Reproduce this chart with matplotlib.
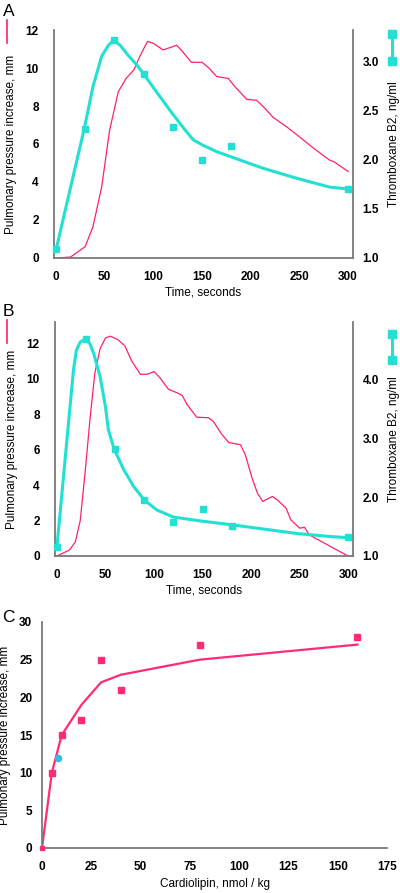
import numpy as np
import matplotlib
matplotlib.use("Agg")
import matplotlib.pyplot as plt
from matplotlib.lines import Line2D

plt.rcParams['font.family'] = ['Liberation Sans', 'DejaVu Sans']

RED = '#ff2266'
CYAN = '#22e0d2'
PINK = '#ff2a78'
BLUE = '#33bbee'
SPINE = '#7a7a7a'

# ---- panel A ----
a_press_t = [0, 15, 30, 38, 47, 55, 64, 72, 80, 86, 94, 100, 110, 124, 131, 139, 150, 157,
             165, 177, 184, 196, 206, 213, 223, 237, 247, 264, 281, 286, 300]
a_press_v = [0, 0.05, 0.6, 1.65, 3.75, 6.7, 8.75, 9.45, 9.9, 10.6, 11.4, 11.3, 10.95, 11.2,
             10.8, 10.3, 10.3, 10.0, 9.55, 9.45, 9.0, 8.35, 8.3, 7.96, 7.4, 6.9, 6.5, 5.8,
             5.15, 5.05, 4.55]
a_txb_t = [0, 30, 60, 90, 120, 150, 180, 300]
a_txb_v = [1.09, 2.31, 3.21, 2.87, 2.33, 2.0, 2.14, 1.70]
a_fit_t = [0, 29, 38, 47, 54, 59, 66, 74, 83, 90, 103, 117, 131, 141, 150, 165, 179, 213, 247, 281, 300]
a_fit_v = [1.08, 2.31, 2.74, 3.05, 3.16, 3.21, 3.16, 3.06, 2.96, 2.87, 2.69, 2.50, 2.32, 2.20,
           2.15, 2.08, 2.03, 1.91, 1.81, 1.72, 1.70]

# ---- panel B ----
b_press_t = [0, 13, 19, 24, 29, 34, 39, 44.5, 50, 55, 63, 70, 77, 86, 93, 100, 106, 115, 124,
             129, 134, 144, 156, 161, 170, 177, 189, 194, 201, 206.5, 212, 222, 227, 236, 241,
             250, 255, 260, 282, 300]
b_press_v = [0, 0.34, 0.8, 2.0, 4.7, 7.7, 10.3, 11.7, 12.3, 12.4, 12.2, 11.85, 11.0, 10.25,
             10.25, 10.4, 10.06, 9.4, 9.2, 9.06, 8.55, 7.83, 7.8, 7.6, 6.85, 6.4, 6.28, 5.72,
             4.4, 3.55, 3.08, 3.36, 3.17, 2.7, 2.04, 1.57, 1.62, 1.19, 0.53, 0]
b_txb_t = [0, 30, 60, 90, 120, 150, 180, 300]
b_txb_v = [1.16, 4.68, 2.81, 1.95, 1.58, 1.80, 1.51, 1.32]
b_fit_t = [0, 17, 20, 24, 29, 34, 38, 44.5, 50, 53, 59, 69, 79, 90, 103, 120, 150, 180, 248, 282, 300]
b_fit_v = [1.16, 4.15, 4.49, 4.63, 4.68, 4.6, 4.43, 4.04, 3.53, 3.14, 2.81, 2.46, 2.18, 1.95,
           1.78, 1.66, 1.59, 1.53, 1.38, 1.33, 1.31]

# ---- panel C ----
c_dose = [5, 10, 20, 30, 40, 80, 160]
c_resp = [10, 15, 17, 25, 21, 27, 28]
c_fit_dose = [0, 5, 10, 20, 30, 40, 80, 160]
c_fit_resp = [0, 10, 15, 19, 22, 23, 25, 27]
c_blue_dose = [8]
c_blue_resp = [12]

W, H = 400, 893
fig = plt.figure(figsize=(W / 100, H / 100), dpi=100)


def rect(l, r, top, bot):
    return [l / W, 1 - bot / H, (r - l) / W, (bot - top) / H]


def style(ax, right=None):
    for s in ['top', 'right']:
        ax.spines[s].set_visible(False)
    for s in ['left', 'bottom']:
        ax.spines[s].set_color(SPINE)
        ax.spines[s].set_linewidth(1.3)
    ax.tick_params(length=0, labelsize=8.5)
    for lab in ax.get_xticklabels() + ax.get_yticklabels():
        lab.set_fontweight('bold')


def time_panel(box, press_t, press_v, txb_t, txb_v, fit_t, fit_v, ylim, rlim, rticks, rfmt):
    ax = fig.add_axes(box)
    ax.plot(press_t, press_v, color=RED, lw=0.9)
    ax.set_xlim(-2, 305)
    ax.set_ylim(*ylim)
    ax.set_xticks(range(0, 301, 50))
    ax.set_yticks(range(0, 13, 2))
    ax.set_xlabel('Time, seconds', fontsize=8.5, labelpad=3)
    ax.set_ylabel('Pulmonary pressure increase, mm', fontsize=8.5, labelpad=6)
    style(ax)
    ax.tick_params(axis='y', pad=11)
    ax.tick_params(axis='x', pad=9)

    ax2 = ax.twinx()
    ax2.plot(fit_t, fit_v, color=CYAN, lw=2.2, zorder=3)
    ax2.plot(txb_t, txb_v, 's', color=CYAN, ms=5, zorder=4, clip_on=False)
    ax2.set_ylim(*rlim)
    ax2.set_yticks(rticks)
    ax2.set_yticklabels([rfmt % v for v in rticks])
    for s in ['top', 'left', 'bottom']:
        ax2.spines[s].set_visible(False)
    ax2.spines['right'].set_color(SPINE)
    ax2.spines['right'].set_linewidth(1.3)
    ax2.tick_params(length=0, labelsize=8.5, pad=7)
    for lab in ax2.get_yticklabels():
        lab.set_fontweight('bold')
    ax2.set_ylabel('Thromboxane B2, ng/ml', fontsize=8.5, labelpad=6)
    return ax, ax2


def legend_keys(y_red0, y_red1, y_sq0, y_sq1):
    fig.add_artist(Line2D([7 / W, 7 / W], [1 - y_red0 / H, 1 - y_red1 / H], color=RED, lw=1.2))
    fig.add_artist(Line2D([392 / W, 392 / W], [1 - y_sq0 / H, 1 - y_sq1 / H], color=CYAN, lw=2.2))
    fig.add_artist(Line2D([392 / W, 392 / W], [1 - y_sq0 / H, 1 - y_sq1 / H], ls='none',
                          marker='s', ms=5.5, color=CYAN))


time_panel(rect(54, 353, 30, 258), a_press_t, a_press_v, a_txb_t, a_txb_v, a_fit_t, a_fit_v,
           (0, 12), (1.0, 3.315), [1.0, 1.5, 2.0, 2.5, 3.0], '%.1f')
legend_keys(20, 43, 34, 61)
fig.text(3 / W, 1 - 11 / H, 'A', fontsize=12.5, va='center', ha='left')

time_panel(rect(55, 353, 322, 556), b_press_t, b_press_v, b_txb_t, b_txb_v, b_fit_t, b_fit_v,
           (0, 13.2), (1.0, 4.97), [1.0, 2.0, 3.0, 4.0], '%.1f')
legend_keys(320, 343, 334, 360)
fig.text(3 / W, 1 - 311 / H, 'B', fontsize=12.5, va='center', ha='left')

# panel C
axc = fig.add_axes(rect(42, 387, 622, 848))
axc.plot(c_fit_dose, c_fit_resp, color=PINK, lw=1.6, zorder=2)
axc.plot(c_dose, c_resp, 's', color=PINK, ms=5, zorder=3)
axc.plot([0], [0], 's', color=PINK, ms=3, zorder=3, clip_on=False)
axc.plot(c_blue_dose, c_blue_resp, 'o', color=BLUE, ms=4.5, zorder=3)
axc.set_xlim(0, 175)
axc.set_ylim(0, 30)
axc.set_xticks(range(0, 176, 25))
axc.set_yticks(range(0, 31, 5))
axc.set_xlabel('Cardiolipin, nmol / kg', fontsize=8.5, labelpad=4)
axc.set_ylabel('Pulmonary pressure increase, mm', fontsize=8.5, labelpad=6)
style(axc)
axc.tick_params(axis='y', pad=7)
axc.tick_params(axis='x', pad=9)
fig.text(2 / W, 1 - 618 / H, 'C', fontsize=12.5, va='center', ha='left')

fig.savefig('out.png', dpi=100)
